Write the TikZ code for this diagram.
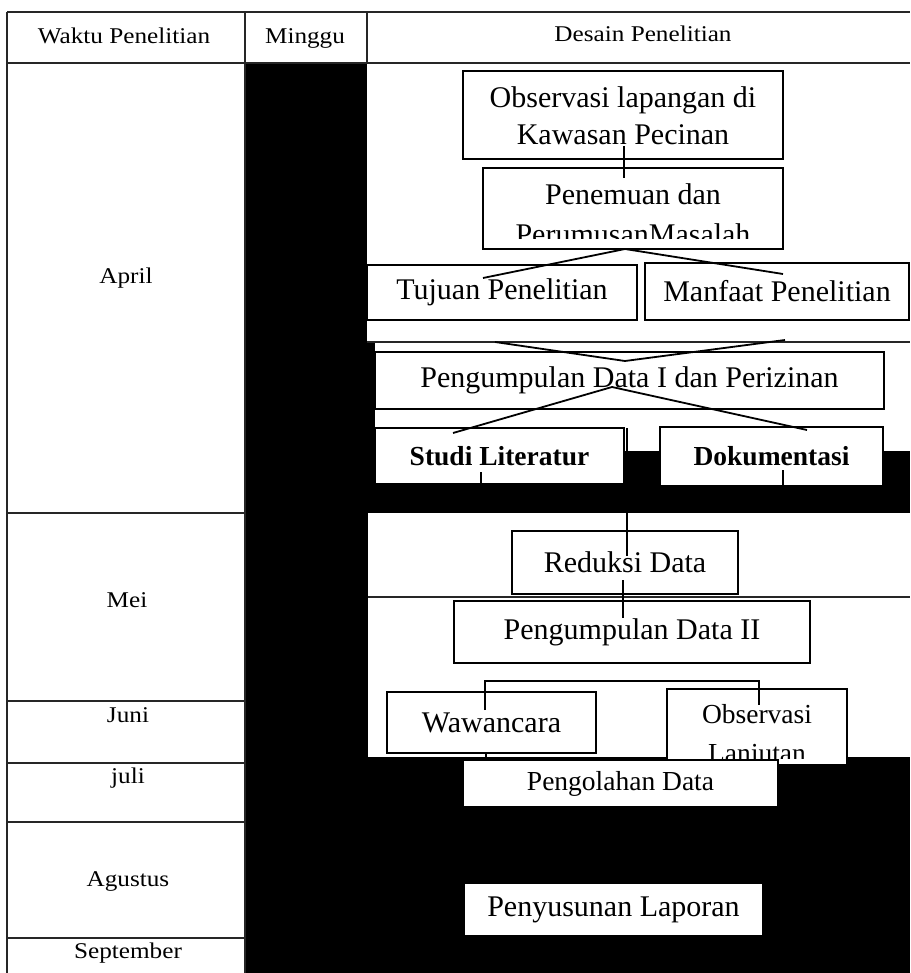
\documentclass[tikz,border=0pt]{standalone}
\usepackage{fontspec}
\setmainfont{Liberation Serif}
\newfontfamily\hdrfont[FakeStretch=1.12]{Liberation Serif}
\begin{document}
\begin{tikzpicture}[x=1pt,y=-1pt,
  box/.style={draw=black, fill=white, line width=1.6pt, inner sep=0pt},
  bt/.style={font=\fontsize{30}{37}\selectfont, align=center},
  st/.style={font=\fontsize{27.5}{33}\selectfont},
  sb/.style={font=\bfseries\fontsize{27.5}{33}\selectfont},
  ht/.style={font=\hdrfont\fontsize{22.5}{26}\selectfont, text height=15.5pt, text depth=4.5pt, inner sep=0pt},
  gridline/.style={line width=1.4pt, draw=black!85},
  conn/.style={line width=1.8pt, draw=black}]
\useasboundingbox (0,0) rectangle (910,973);
\fill[white] (0,0) rectangle (910,973);
% black background of schedule
\fill[black] (245,63) rectangle (910,973);
% white working areas
\fill[white] (367,63) rectangle (910,342);
\fill[white] (375,342) rectangle (910,451);
\fill[white] (368,513) rectangle (910,757);
\draw[gridline] (367,342) -- (910,342);
\draw[gridline] (368,597) -- (910,597);
% table grid
\draw[gridline] (7,12) -- (910,12);
\draw[gridline] (7,63) -- (910,63);
\draw[gridline] (7,12) -- (7,973);
\draw[gridline] (245,12) -- (245,973);
\draw[gridline] (367,12) -- (367,63);
\foreach \yy in {513,701,763,822,938} \draw[gridline] (7,\yy) -- (245,\yy);
% header and month labels
\node[ht] (hwaktu) at (124,38) {Waktu Penelitian};
\node[ht] (hminggu) at (305,38) {Minggu};
\node[ht] (hdesain) at (643,36) {Desain Penelitian};
\node[ht] (mapr) at (126,278) {April};
\node[ht] (mmei) at (127,602) {Mei};
\node[ht] (mjun) at (128,717) {Juni};
\node[ht] (mjul) at (128,778) {juli};
\node[ht] (mags) at (128,881) {Agustus};
\node[ht] (msep) at (128,953) {September};
% boxes
\node[box, minimum width=320pt, minimum height=88pt] (obs) at (623,115) {};
\node[bt, anchor=base, inner sep=0pt] (obs1) at (623,107.5) {Observasi lapangan di};
\node[bt, anchor=base, inner sep=0pt] (obs2) at (623,145) {Kawasan Pecinan};
\node[box, minimum width=300pt, minimum height=81pt] (pen) at (633,208.5) {};
\begin{scope}
  \clip (483,168) rectangle (783,239);
  \node[bt, anchor=base, inner sep=0pt] (pen1) at (633,205) {Penemuan dan};
  \node[bt, anchor=base, inner sep=0pt] (pen2) at (633,244.5) {PerumusanMasalah};
\end{scope}
\node[box, bt, minimum width=270pt, minimum height=55pt] (tuj) at (502,292.5) {Tujuan Penelitian};
\node[box, bt, minimum width=264pt, minimum height=57pt] (man) at (777,291.5) {Manfaat Penelitian};
\node[box, bt, minimum width=509pt, minimum height=57pt] (pd1) at (629.5,380.5) {Pengumpulan Data I dan Perizinan};
\node[box, sb, minimum width=249pt, minimum height=56pt] (stl) at (499.5,456) {Studi Literatur};
\node[box, sb, minimum width=223pt, minimum height=59pt] (dok) at (771.5,456.5) {Dokumentasi};
\node[box, bt, minimum width=226pt, minimum height=63pt] (red) at (625,562.5) {Reduksi Data};
\node[box, bt, minimum width=356pt, minimum height=62pt] (pd2) at (632,632) {Pengumpulan Data II};
\node[box, bt, minimum width=209pt, minimum height=61pt] (waw) at (491.5,722.5) {Wawancara};
\node[box, minimum width=180pt, minimum height=76pt] (obl) at (757,727) {};
\begin{scope}
  \clip (667,689) rectangle (847,758);
  \node[st, anchor=base, inner sep=0pt] (obl1) at (757,723) {Observasi};
  \node[st, anchor=base, inner sep=0pt] (obl2) at (757,762) {Lanjutan};
\end{scope}
\node[box, st, minimum width=315pt, minimum height=47pt] (olah) at (620.5,783.5) {Pengolahan Data};
\node[box, bt, minimum width=299pt, minimum height=53pt] (lap) at (613.5,909.5) {Penyusunan Laporan};
% connector points
\coordinate (c1a) at (624,146); \coordinate (c1b) at (624,178);
\coordinate (c2a) at (625,249); \coordinate (c2b) at (483,278); \coordinate (c2c) at (783,274);
\coordinate (c4a) at (495,342); \coordinate (c4b) at (625,361); \coordinate (c4c) at (785,340);
\coordinate (c5a) at (612,387); \coordinate (c5b) at (453,433); \coordinate (c5c) at (807,430);
\coordinate (t1a) at (481,472); \coordinate (t2a) at (783,470);
\coordinate (c7a) at (627,428); \coordinate (c7b) at (627,556);
\coordinate (c8a) at (623,580); \coordinate (c8b) at (623,618);
\coordinate (c9a) at (485,710); \coordinate (c9b) at (485,681); \coordinate (c9c) at (759,681); \coordinate (c9d) at (759,705);
% connectors
\draw[conn] (c1a) -- (c1b);
\draw[conn] (c2b) -- (c2a) -- (c2c);
\draw[conn] (c4a) -- (c4b) -- (c4c);
\draw[conn] (c5b) -- (c5a) -- (c5c);
\draw[conn] (t1a) -- (t1a |- stl.south);
\draw[conn] (t2a) -- (t2a |- dok.south);
\draw[conn] (c7a) -- (c7b);
\draw[conn] (c8a) -- (c8b);
\draw[conn] (c9a) -- (c9b) -- (c9c) -- (c9d);
\draw[conn] ([xshift=-5.5pt]waw.south) -- ([xshift=-5.5pt]waw.south |- olah.north);
\end{tikzpicture}
\end{document}
